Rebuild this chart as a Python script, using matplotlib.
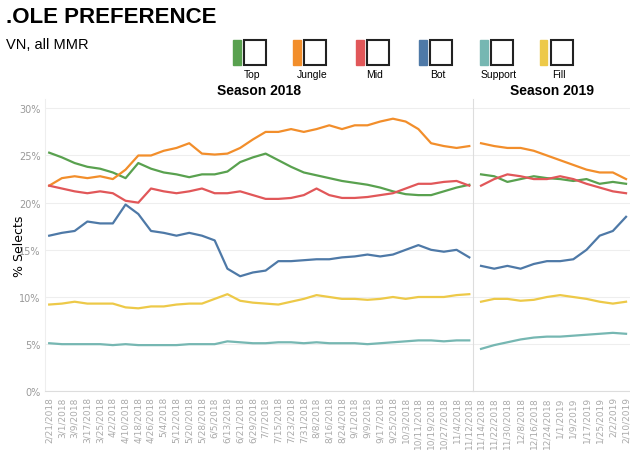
import matplotlib.pyplot as plt
from matplotlib.patches import Rectangle
import numpy as np

ticks_2018 = ["2/21/2018", "3/1/2018", "3/9/2018", "3/17/2018", "3/25/2018", "4/2/2018",
              "4/10/2018", "4/18/2018", "4/26/2018", "5/4/2018", "5/12/2018", "5/20/2018",
              "5/28/2018", "6/5/2018", "6/13/2018", "6/21/2018", "6/29/2018", "7/7/2018",
              "7/15/2018", "7/23/2018", "7/31/2018", "8/8/2018", "8/16/2018", "8/24/2018",
              "9/1/2018", "9/9/2018", "9/17/2018", "9/25/2018", "10/3/2018", "10/11/2018",
              "10/19/2018", "10/27/2018", "11/4/2018", "11/12/2018"]
ticks_2019 = ["11/14/2018", "11/22/2018", "11/30/2018", "12/8/2018", "12/16/2018",
              "12/24/2018", "1/1/2019", "1/9/2019", "1/17/2019", "1/25/2019", "2/2/2019",
              "2/10/2019"]

top_2018 = [25.3, 24.8, 24.2, 23.8, 23.6, 23.2, 22.6, 24.2, 23.6, 23.2, 23.0, 22.7, 23.0, 23.0,
            23.3, 24.3, 24.8, 25.2, 24.5, 23.8, 23.2, 22.9, 22.6, 22.3, 22.1, 21.9, 21.6, 21.2,
            20.9, 20.8, 20.8, 21.2, 21.6, 21.9]
jungle_2018 = [21.8, 22.6, 22.8, 22.6, 22.8, 22.5, 23.5, 25.0, 25.0, 25.5, 25.8, 26.3, 25.2,
               25.1, 25.2, 25.8, 26.7, 27.5, 27.5, 27.8, 27.5, 27.8, 28.2, 27.8, 28.2, 28.2,
               28.6, 28.9, 28.6, 27.8, 26.3, 26.0, 25.8, 26.0]
mid_2018 = [21.8, 21.5, 21.2, 21.0, 21.2, 21.0, 20.2, 20.0, 21.5, 21.2, 21.0, 21.2, 21.5, 21.0,
            21.0, 21.2, 20.8, 20.4, 20.4, 20.5, 20.8, 21.5, 20.8, 20.5, 20.5, 20.6, 20.8, 21.0,
            21.5, 22.0, 22.0, 22.2, 22.3, 21.8]
bot_2018 = [16.5, 16.8, 17.0, 18.0, 17.8, 17.8, 19.8, 18.8, 17.0, 16.8, 16.5, 16.8, 16.5, 16.0,
            13.0, 12.2, 12.6, 12.8, 13.8, 13.8, 13.9, 14.0, 14.0, 14.2, 14.3, 14.5, 14.3, 14.5,
            15.0, 15.5, 15.0, 14.8, 15.0, 14.2]
support_2018 = [5.1, 5.0, 5.0, 5.0, 5.0, 4.9, 5.0, 4.9, 4.9, 4.9, 4.9, 5.0, 5.0, 5.0, 5.3, 5.2,
                5.1, 5.1, 5.2, 5.2, 5.1, 5.2, 5.1, 5.1, 5.1, 5.0, 5.1, 5.2, 5.3, 5.4, 5.4, 5.3,
                5.4, 5.4]
fill_2018 = [9.2, 9.3, 9.5, 9.3, 9.3, 9.3, 8.9, 8.8, 9.0, 9.0, 9.2, 9.3, 9.3, 9.8, 10.3, 9.6,
             9.4, 9.3, 9.2, 9.5, 9.8, 10.2, 10.0, 9.8, 9.8, 9.7, 9.8, 10.0, 9.8, 10.0, 10.0,
             10.0, 10.2, 10.3]

top_2019 = [23.0, 22.8, 22.2, 22.5, 22.8, 22.6, 22.5, 22.3, 22.5, 22.0, 22.2, 22.0]
jungle_2019 = [26.3, 26.0, 25.8, 25.8, 25.5, 25.0, 24.5, 24.0, 23.5, 23.2, 23.2, 22.5]
mid_2019 = [21.8, 22.5, 23.0, 22.8, 22.5, 22.5, 22.8, 22.5, 22.0, 21.6, 21.2, 21.0]
bot_2019 = [13.3, 13.0, 13.3, 13.0, 13.5, 13.8, 13.8, 14.0, 15.0, 16.5, 17.0, 18.5]
support_2019 = [4.5, 4.9, 5.2, 5.5, 5.7, 5.8, 5.8, 5.9, 6.0, 6.1, 6.2, 6.1]
fill_2019 = [9.5, 9.8, 9.8, 9.6, 9.7, 10.0, 10.2, 10.0, 9.8, 9.5, 9.3, 9.5]

roles = ["Top", "Jungle", "Mid", "Bot", "Support", "Fill"]
colors = ["#59a14f", "#f28e2b", "#e15759", "#4e79a7", "#76b7b2", "#edc948"]
series_2018 = [top_2018, jungle_2018, mid_2018, bot_2018, support_2018, fill_2018]
series_2019 = [top_2019, jungle_2019, mid_2019, bot_2019, support_2019, fill_2019]

fig = plt.figure(figsize=(6.3, 4.52), dpi=100)
ax1 = fig.add_axes([0.072, 0.132, 0.679, 0.647])
ax2 = fig.add_axes([0.751, 0.132, 0.249, 0.647], sharey=ax1)

for ax, series, ticks, title, pad in [(ax1, series_2018, ticks_2018, "Season 2018", 0.0),
                                      (ax2, series_2019, ticks_2019, "Season 2019", 0.3)]:
    x = np.arange(len(ticks))
    for values, color in zip(series, colors):
        ax.plot(x[:len(values)], values, color=color, lw=1.6)
    ax.set_xticks(x)
    ax.set_xticklabels(ticks, rotation=90, fontsize=6.5, color="#aaaaaa")
    ax.set_xlim(-0.3 - pad, len(ticks) - 0.7)
    ax.set_ylim(0, 31)
    ax.set_yticks(range(0, 31, 5))
    ax.grid(axis="y", color="#eeeeee", lw=0.8)
    ax.tick_params(length=0)
    for side in ["top", "right", "left"]:
        ax.spines[side].set_visible(False)
    ax.spines["bottom"].set_color("#dddddd")
    ax.text(0.5, 1.005, title, transform=ax.transAxes, ha="center", va="bottom",
            fontsize=10, fontweight="bold", family="Liberation Sans")

ax1.set_yticklabels([f"{v}%" for v in range(0, 31, 5)], fontsize=7, color="#999999")
ax1.set_ylabel("% Selects", fontsize=9, labelpad=4)
ax1.yaxis.set_label_coords(-0.045, 0.5)
plt.setp(ax2.get_yticklabels(), visible=False)
ax2.spines["left"].set_visible(True)
ax2.spines["left"].set_color("#dddddd")
ax1.spines["left"].set_visible(True)
ax1.spines["left"].set_color("#eeeeee")

fig.text(0.01, 0.985, ".OLE PREFERENCE", fontsize=16, fontweight="bold",
         family="Liberation Sans", va="top")
fig.text(0.01, 0.915, "VN, all MMR", fontsize=10.5, family="Liberation Sans", va="top")

legend_x = [0.37, 0.465, 0.565, 0.665, 0.762, 0.857]
for lx, role, color in zip(legend_x, roles, colors):
    fig.patches.append(Rectangle((lx, 0.855), 0.012, 0.055, transform=fig.transFigure,
                                 color=color))
    fig.patches.append(Rectangle((lx + 0.018, 0.855), 0.035, 0.055, transform=fig.transFigure,
                                 fill=False, ec="#222222", lw=1.5))
    fig.text(lx + 0.03, 0.845, role, fontsize=7.5, ha="center", va="top",
             family="Liberation Sans")

fig.savefig("out.png", dpi=100)
